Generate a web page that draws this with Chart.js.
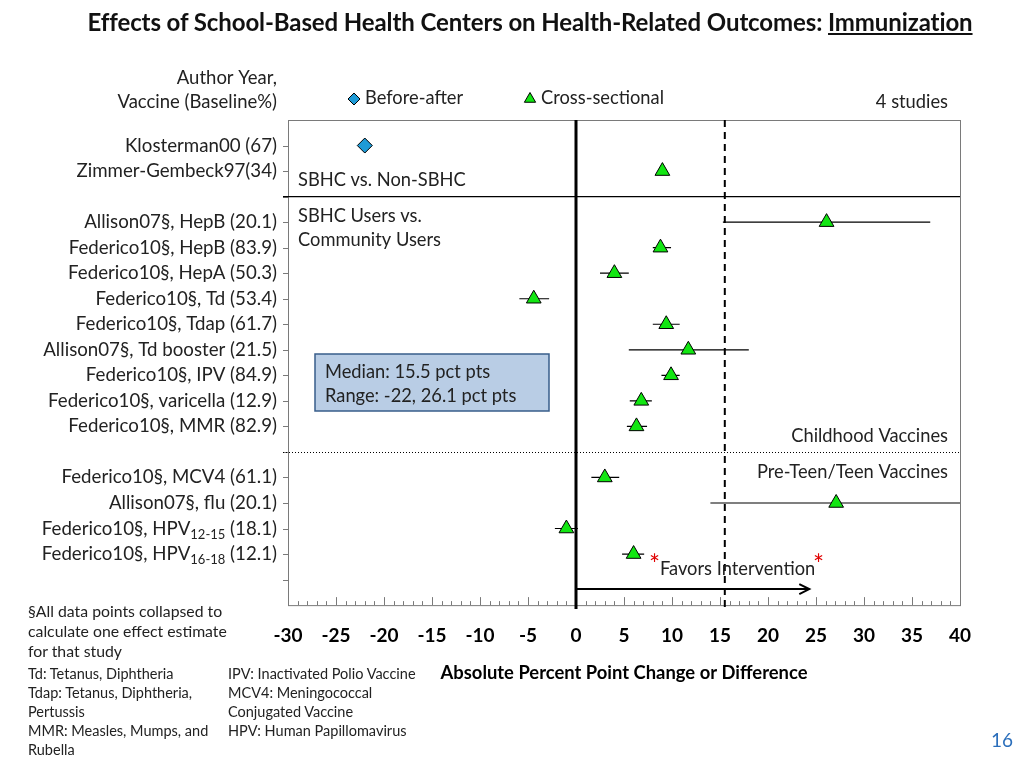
<!DOCTYPE html>
<html>
<head>
<meta charset="utf-8">
<title>SBHC Immunization</title>
<script src="https://cdn.jsdelivr.net/npm/chart.js@4.4.1/dist/chart.umd.min.js"></script>
<style>
  html, body { margin: 0; padding: 0; background: #fff; }
  #wrap { position: relative; width: 1024px; height: 768px; font-family: Lato, "Open Sans", sans-serif; color: #222; }
  #c { position: absolute; left: 0; top: 0; }
  #title { position: absolute; left: 0; top: 7px; width: 1060px; text-align: center; font-weight: bold; font-size: 24px; color: #111; letter-spacing: -0.1px; }
  .note { position: absolute; left: 28px; font-size: 15.8px; line-height: 20px; }
  .gl { position: absolute; font-size: 14.5px; line-height: 19px; }
  #page { position: absolute; left: 991px; top: 728px; font-size: 19px; color: #2a6ebb; }
</style>
</head>
<body>
<div id="wrap">
  <canvas id="c" width="1024" height="768"></canvas>
  <div id="title">Effects of School-Based Health Centers on Health-Related Outcomes: <u>Immunization</u></div>
  <div class="note" style="top:601px">§All data points collapsed to<br>calculate one effect estimate<br>for that study</div>
  <div class="gl" style="left:28px;top:664px">Td: Tetanus, Diphtheria<br>Tdap: Tetanus, Diphtheria,<br>Pertussis<br>MMR: Measles, Mumps, and<br>Rubella</div>
  <div class="gl" style="left:228px;top:664px">IPV: Inactivated Polio Vaccine<br>MCV4: Meningococcal<br>Conjugated Vaccine<br>HPV: Human Papillomavirus</div>
  <div id="page">16</div>
</div>
<script>
  "use strict";

  // rows of the forest plot (text in {} is a subscript)
  const rowLabels = [
    "Klosterman00 (67)",
    "Zimmer-Gembeck97(34)",
    "Allison07§, HepB (20.1)",
    "Federico10§, HepB (83.9)",
    "Federico10§, HepA (50.3)",
    "Federico10§, Td (53.4)",
    "Federico10§, Tdap (61.7)",
    "Allison07§, Td booster (21.5)",
    "Federico10§, IPV (84.9)",
    "Federico10§, varicella (12.9)",
    "Federico10§, MMR (82.9)",
    "Federico10§, MCV4 (61.1)",
    "Allison07§, flu (20.1)",
    "Federico10§, HPV{12-15} (18.1)",
    "Federico10§, HPV{16-18} (12.1)",
  ];
  const rowPos = [1, 2, 4, 5, 6, 7, 8, 9, 10, 11, 12, 14, 15, 16, 17];
  const design = ["ba", "cs", "cs", "cs", "cs", "cs", "cs", "cs", "cs", "cs", "cs", "cs", "cs", "cs", "cs"];
  const estimate = [-22, 9, 26.1, 8.8, 4.0, -4.4, 9.4, 11.7, 9.9, 6.8, 6.3, 3.0, 27.1, -1.0, 6.0];
  const ciLow = [null, null, 15.3, 8.0, 2.5, -5.9, 8.0, 5.5, 8.9, 5.6, 5.3, 1.6, 14.0, -2.2, 4.8];
  const ciHigh = [null, null, 36.9, 9.9, 5.5, -2.8, 10.8, 18.0, 10.8, 7.9, 7.4, 4.5, 42, 0.2, 7.1];

  const xMin = -30, xMax = 40, xStep = 5;
  const rowMax = 19;
  const medianVal = 15.5;
  const rangeLo = -22, rangeHi = 26.1;
  const nStudies = 4;
  const solidDividers = [3];
  const dottedDividers = [13];

  const FONT = "Lato, 'Open Sans', sans-serif";
  const TXT = "#222";

  const baData = [], csData = [], ciData = [];
  for (let i = 0; i < estimate.length; i++) {
    const pt = { x: estimate[i], y: rowPos[i] };
    (design[i] === "ba" ? baData : csData).push(pt);
    if (ciLow[i] != null) {
      ciData.push({ x: ciLow[i], y: rowPos[i] }, { x: ciHigh[i], y: rowPos[i] }, { x: null, y: null });
    }
  }

  function drawLabel(ctx, text, xRight, y) {
    const m = text.match(/^(.*)\{(.*)\}(.*)$/);
    const big = "18.7px " + FONT, small = "13px " + FONT;
    ctx.textBaseline = "middle";
    ctx.textAlign = "left";
    if (!m) {
      ctx.font = big;
      ctx.fillText(text, xRight - ctx.measureText(text).width, y);
      return;
    }
    ctx.font = big;
    const w1 = ctx.measureText(m[1]).width, w3 = ctx.measureText(m[3]).width;
    ctx.font = small;
    const w2 = ctx.measureText(m[2]).width;
    let x = xRight - w1 - w2 - w3;
    ctx.font = big; ctx.fillText(m[1], x, y); x += w1;
    ctx.font = small; ctx.fillText(m[2], x, y + 6); x += w2;
    ctx.font = big; ctx.fillText(m[3], x, y);
  }

  const decor = {
    id: "decor",
    beforeDatasetsDraw(chart) {
      const ctx = chart.ctx, a = chart.chartArea;
      const xs = chart.scales.x, ys = chart.scales.y;
      ctx.save();
      // frame
      ctx.strokeStyle = "#7a7a7a";
      ctx.lineWidth = 1;
      ctx.strokeRect(a.left + 0.5, a.top + 0.5, a.right - a.left, a.bottom - a.top);
      // left ticks
      for (let r = 1; r < rowMax; r++) {
        const y = Math.round(ys.getPixelForValue(r)) + 0.5;
        ctx.beginPath(); ctx.moveTo(a.left - 5, y); ctx.lineTo(a.left, y); ctx.stroke();
      }
      // bottom minor/major ticks, pointing inward
      for (let v = xMin; v <= xMax; v++) {
        const x = Math.round(xs.getPixelForValue(v)) + 0.5;
        const len = v % xStep === 0 ? 8 : 4;
        ctx.beginPath(); ctx.moveTo(x, a.bottom); ctx.lineTo(x, a.bottom - len); ctx.stroke();
      }
      // group dividers
      ctx.strokeStyle = "#000";
      ctx.lineWidth = 1.3;
      solidDividers.forEach((r) => {
        const y = ys.getPixelForValue(r);
        ctx.beginPath(); ctx.moveTo(a.left - 5, y); ctx.lineTo(a.right, y); ctx.stroke();
      });
      ctx.lineWidth = 1;
      ctx.setLineDash([1, 2]);
      dottedDividers.forEach((r) => {
        const y = Math.round(ys.getPixelForValue(r)) + 0.5;
        ctx.beginPath(); ctx.moveTo(a.left - 5, y); ctx.lineTo(a.right, y); ctx.stroke();
      });
      // median dashed line
      ctx.setLineDash([7, 5]);
      ctx.lineWidth = 2;
      const mx = xs.getPixelForValue(medianVal);
      ctx.beginPath(); ctx.moveTo(mx, a.top); ctx.lineTo(mx, a.bottom + 6); ctx.stroke();
      ctx.setLineDash([]);
      // zero line
      ctx.lineWidth = 3;
      const zx = xs.getPixelForValue(0);
      ctx.beginPath(); ctx.moveTo(zx, a.top); ctx.lineTo(zx, a.bottom + 4); ctx.stroke();
      // favors-intervention arrow
      const ay = ys.getPixelForValue(18.37);
      const ax1 = xs.getPixelForValue(24.3);
      ctx.lineWidth = 2;
      ctx.beginPath(); ctx.moveTo(zx, ay); ctx.lineTo(ax1, ay); ctx.stroke();
      ctx.beginPath(); ctx.moveTo(ax1 - 10, ay - 5); ctx.lineTo(ax1, ay); ctx.lineTo(ax1 - 10, ay + 5); ctx.stroke();
      ctx.restore();
    },
    afterDraw(chart) {
      const ctx = chart.ctx, a = chart.chartArea;
      const xs = chart.scales.x, ys = chart.scales.y;
      const H = Chart.helpers;
      const F = "18.3px " + FONT;
      ctx.save();
      ctx.fillStyle = TXT;
      // row labels
      rowLabels.forEach((t, i) => drawLabel(ctx, t, a.left - 11, ys.getPixelForValue(rowPos[i])));
      // header
      ctx.font = "18.5px " + FONT;
      ctx.textAlign = "right";
      ctx.textBaseline = "middle";
      ctx.fillText("Author Year,", a.left - 11, 78);
      ctx.fillText("Vaccine (Baseline%)", a.left - 11, 102);
      ctx.font = F;
      ctx.fillText(nStudies + " studies", a.right - 12, 102);
      ctx.fillText("Childhood Vaccines", a.right - 12, 436);
      ctx.fillText("Pre-Teen/Teen Vaccines", a.right - 12, 472);
      // legend from datasets
      const ds = chart.data.datasets;
      const legendX = [354, 530];
      [0, 1].forEach((k) => {
        const d = ds[k];
        ctx.fillStyle = d.backgroundColor;
        ctx.strokeStyle = "#000";
        ctx.lineWidth = 1;
        H.drawPoint(ctx, { pointStyle: d.pointStyle, radius: k === 0 ? 6 : 6.5, borderWidth: 1, rotation: 0 }, legendX[k], 99);
        ctx.fillStyle = TXT;
        ctx.textAlign = "left";
        ctx.fillText(d.label, legendX[k] + 11, 98);
      });
      // section labels
      ctx.textAlign = "left";
      ctx.fillText("SBHC vs. Non-SBHC", a.left + 10, 180);
      ctx.fillText("SBHC Users vs.", a.left + 10, 216);
      ctx.fillText("Community Users", a.left + 10, 240);
      // median box
      ctx.fillStyle = "#b9cde5";
      ctx.strokeStyle = "#385d8a";
      ctx.lineWidth = 1.5;
      ctx.fillRect(315, 354, 234, 57);
      ctx.strokeRect(315, 354, 234, 57);
      ctx.fillStyle = TXT;
      ctx.fillText("Median: " + medianVal + " pct pts", 325, 372);
      ctx.fillText("Range: " + rangeLo + ", " + rangeHi + " pct pts", 325, 396);
      // favors intervention
      const fy = ys.getPixelForValue(18.37) - 20;
      ctx.fillText("Favors Intervention", 660, fy);
      ctx.fillStyle = "#e00000";
      ctx.font = "26px " + FONT;
      ctx.fillText("*", 649, fy - 3);
      ctx.fillText("*", 813, fy - 3);
      ctx.restore();
    },
  };

  new Chart(document.getElementById("c"), {
    type: "scatter",
    data: {
      datasets: [
        {
          label: "Before-after",
          data: baData,
          pointStyle: "rectRot",
          pointRadius: 7.5,
          backgroundColor: "#1e9bd7",
          borderColor: "#000",
          borderWidth: 1,
        },
        {
          label: "Cross-sectional",
          data: csData,
          pointStyle: "triangle",
          pointRadius: 8.5,
          backgroundColor: "#12e612",
          borderColor: "#000",
          borderWidth: 1,
        },
        {
          type: "line",
          label: "95% CI",
          data: ciData,
          borderColor: "#000",
          borderWidth: 1.2,
          pointRadius: 0,
          spanGaps: false,
          fill: false,
        },
      ],
    },
    options: {
      responsive: false,
      animation: false,
      layout: { padding: { left: 288, right: 64, top: 120, bottom: 84 } },
      plugins: { legend: { display: false }, tooltip: { enabled: false } },
      scales: {
        x: {
          type: "linear",
          min: xMin,
          max: xMax,
          grid: { display: false, drawTicks: false },
          border: { display: false },
          ticks: {
            stepSize: 1,
            autoSkip: false,
            maxRotation: 0,
            padding: 19,
            color: "#000",
            font: { family: FONT, size: 19, weight: "bold" },
            callback: (v) => (v % xStep === 0 ? String(v) : ""),
          },
          title: {
            display: true,
            text: "Absolute Percent Point Change or Difference",
            color: "#000",
            font: { family: FONT, size: 18.4, weight: "bold" },
            padding: { top: -4, bottom: 0 },
          },
        },
        y: {
          type: "linear",
          min: 0,
          max: rowMax,
          reverse: true,
          display: false,
        },
      },
    },
    plugins: [decor],
  });
</script>
</body>
</html>
